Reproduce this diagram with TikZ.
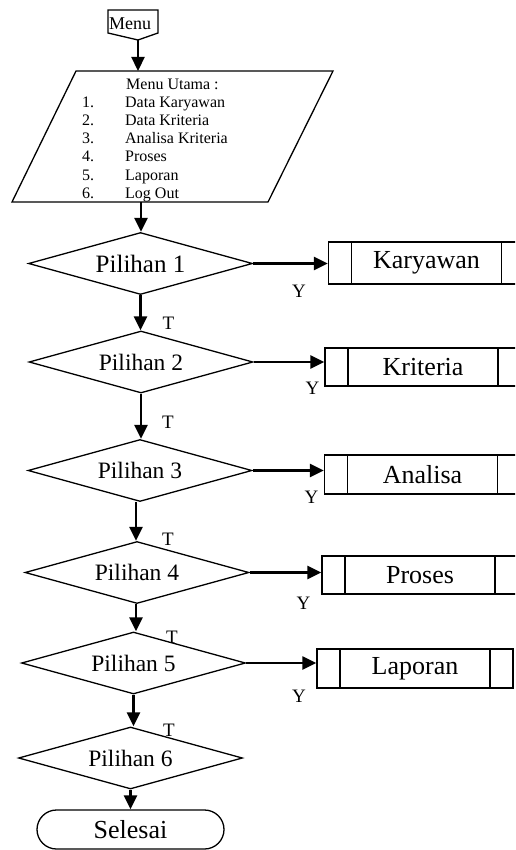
\documentclass[tikz,border=0pt]{standalone}
\usepackage{fontspec}
\setmainfont{Liberation Serif}
\usetikzlibrary{shapes.geometric,shapes.misc,arrows.meta,calc}

\tikzset{
  shapeline/.style={line width=1.3pt},
  flow/.style={line width=2.3pt, -{Triangle[length=14pt,width=13pt]}},
  decision/.style={diamond, draw, shapeline, inner sep=0pt, aspect=3.6,
    minimum width=224pt, minimum height=62pt,
    font=\fontsize{23.5}{27}\selectfont},
  procbox/.style={rectangle, draw, shapeline, inner sep=0pt,
    minimum width=196pt, minimum height=39pt,
    font=\fontsize{26}{30}\selectfont,
    path picture={
      \draw[shapeline]
        ([xshift=23pt]path picture bounding box.north west) --
        ([xshift=23pt]path picture bounding box.south west)
        ([xshift=-23pt]path picture bounding box.north east) --
        ([xshift=-23pt]path picture bounding box.south east);}},
  terminal/.style={rounded rectangle, draw, shapeline, inner sep=0pt,
    minimum width=187pt, minimum height=39pt,
    font=\fontsize{26}{30}\selectfont},
  answer/.style={inner sep=0pt, font=\fontsize{19}{22}\selectfont},
}

\begin{document}
\begin{tikzpicture}[x=1pt,y=-1pt]
\useasboundingbox (0,0) rectangle (515,850);
\clip (0,0) rectangle (515,850);

% off-page connector "Menu"
\draw[shapeline] (108,10) -- (158,10) -- (158,33) -- (138,40) -- (108,33) -- cycle;
\node[inner sep=0pt, anchor=base west, font=\fontsize{18}{20}\selectfont] (menulbl) at (109,29.5) {Menu};
\coordinate (menutip) at (138,40);

% main menu (input/output parallelogram)
\draw[shapeline] (76,71) -- (333,71) -- (268,202) -- (12,202) -- cycle;
\coordinate (ptop) at (138,71);
\coordinate (pbot) at (141,202);
\node[inner sep=0pt, anchor=north west, align=left,
      font=\fontsize{16}{18.2}\selectfont] (menutext) at (82,78.5)
  {\hspace*{44pt}Menu Utama :\\
   \makebox[43pt][l]{1.}Data Karyawan\\
   \makebox[43pt][l]{2.}Data Kriteria\\
   \makebox[43pt][l]{3.}Analisa Kriteria\\
   \makebox[43pt][l]{4.}Proses\\
   \makebox[43pt][l]{5.}Laporan\\
   \makebox[43pt][l]{6.}Log Out};

% decisions
\node[decision, font=\fontsize{25}{29}\selectfont] (d1) at (140.5,263.5) {Pilihan 1};
\node[decision] (d2) at (141,362) {Pilihan 2};
\node[decision] (d3) at (140,470.5) {Pilihan 3};
\node[decision] (d4) at (137,572.5) {Pilihan 4};
\node[decision] (d5) at (133.5,663) {Pilihan 5};
\node[decision] (d6) at (130.5,758) {Pilihan 6};

% predefined processes
\node[procbox, minimum height=42pt] (b1) at (426.5,263) {Karyawan};
\node[procbox, minimum height=38pt] (b2) at (423,367) {Kriteria};
\node[procbox] (b3) at (422.5,474.5) {Analisa};
\node[procbox, minimum height=38pt] (b4) at (420,575) {Proses};
\node[procbox] (b5) at (415,668.5) {Laporan};

% end
\node[terminal] (sel) at (130.5,829.5) {Selesai};

% flow down the main column (kept vertical)
\draw[flow] (menutip) -- (ptop);
\draw[flow] (pbot) -- (pbot |- d1.north);
\draw[flow] (d1.south) -- (d1.south |- d2.north);
\draw[flow] (d2.south) -- (d2.south |- d3.north);
\draw[flow] ([xshift=-4pt]d3.south) -- ([xshift=-4pt]d3.south |- d4.north);
\draw[flow] ([xshift=-1pt]d4.south) -- ([xshift=-1pt]d4.south |- d5.north);
\draw[flow] (d5.south) -- (d5.south |- d6.north);
\draw[flow] (d6.south) -- (d6.south |- sel.north);

% "yes" branches
\draw[flow] (d1.east) -- (d1.east -| b1.west);
\draw[flow] (d2.east) -- (d2.east -| b2.west);
\draw[flow] (d3.east) -- (d3.east -| b3.west);
\draw[flow] (d4.east) -- (d4.east -| b4.west);
\draw[flow] (d5.east) -- (d5.east -| b5.west);

% branch labels
\node[answer] (y1) at (299,291.5) {Y};
\node[answer] (y2) at (312.5,388.5) {Y};
\node[answer] (y3) at (311.5,497.5) {Y};
\node[answer] (y4) at (303.5,603.5) {Y};
\node[answer] (y5) at (299,696) {Y};
\node[answer] (t1) at (168.5,323.5) {T};
\node[answer] (t2) at (168,422) {T};
\node[answer] (t3) at (168,539) {T};
\node[answer] (t4) at (172,637) {T};
\node[answer] (t5) at (169,730) {T};
\end{tikzpicture}
\end{document}
